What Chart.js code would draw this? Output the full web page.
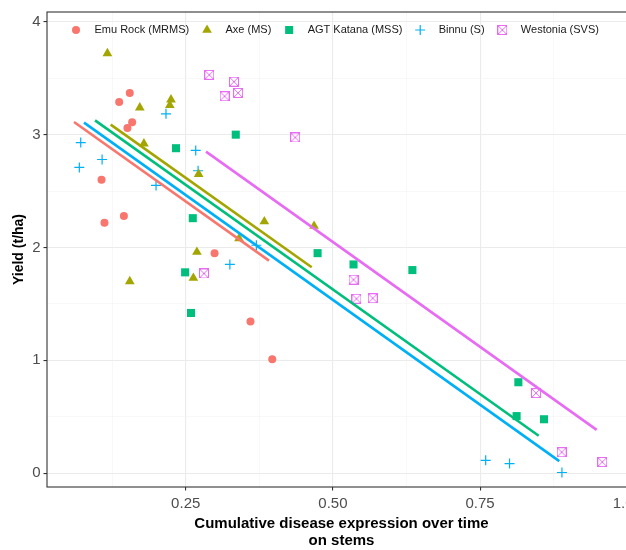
<!DOCTYPE html>
<html>
<head>
<meta charset="utf-8">
<title>Yield vs cumulative disease expression</title>
<script src="https://cdn.jsdelivr.net/npm/chart.js@4.4.1/dist/chart.umd.min.js"></script>
<style>
  html, body { margin: 0; padding: 0; background: #ffffff; overflow: hidden; }
  #wrap { width: 626px; height: 550px; overflow: hidden; }
</style>
</head>
<body>
<div id="wrap"><canvas id="yieldChart" width="650" height="550"></canvas></div>
<script>
// Varieties (legend order)
const seriesNames = ['Emu Rock (MRMS)', 'Axe (MS)', 'AGT Katana (MSS)', 'Binnu (S)', 'Westonia (SVS)'];
const seriesColors = ['#F8766D', '#A3A500', '#00BF7D', '#00B0F6', '#E76BF3'];

// Observations: cumulative disease expression (x) and yield t/ha (y)
const emuX = [0.155, 0.137, 0.159, 0.151, 0.107, 0.145, 0.112, 0.299, 0.360, 0.397];
const emuY = [3.37, 3.29, 3.11, 3.06, 2.60, 2.28, 2.22, 1.95, 1.345, 1.01];

const axeX = [0.117, 0.225, 0.223, 0.172, 0.179, 0.272, 0.3835, 0.468, 0.3405, 0.269, 0.263, 0.155];
const axeY = [3.72, 3.31, 3.26, 3.24, 2.92, 2.65, 2.23, 2.19, 2.08, 1.96, 1.73, 1.70];

const katanaX = [0.335, 0.2335, 0.262, 0.249, 0.259, 0.474, 0.535, 0.635, 0.815, 0.812, 0.8585];
const katanaY = [3.00, 2.88, 2.26, 1.78, 1.42, 1.95, 1.85, 1.80, 0.806, 0.506, 0.478];

const binnuX = [0.0717, 0.108, 0.0693, 0.2165, 0.267, 0.271, 0.1996, 0.370, 0.325, 0.7595, 0.800, 0.889];
const binnuY = [2.93, 2.78, 2.71, 3.185, 2.86, 2.68, 2.55, 2.02, 1.85, 0.114, 0.085, 0.006];

const westoniaX = [0.290, 0.332, 0.339, 0.316, 0.436, 0.281, 0.535, 0.540, 0.5676, 0.845, 0.8885, 0.9575];
const westoniaY = [3.53, 3.47, 3.37, 3.34, 2.975, 1.77, 1.715, 1.546, 1.55, 0.71, 0.186, 0.099];

// Fitted lines (start and end of each variety's line)
const emuFitX = [0.0603, 0.3914];
const emuFitY = [3.112, 1.884];
const axeFitX = [0.1226, 0.464];
const axeFitY = [3.089, 1.825];
const katanaFitX = [0.096, 0.8495];
const katanaFitY = [3.127, 0.332];
const binnuFitX = [0.0773, 0.8845];
const binnuFitY = [3.107, 0.107];
const westoniaFitX = [0.2845, 0.948];
const westoniaFitY = [2.85, 0.384];

// Axis ticks (empty label = minor grid line)
const xTickValues = [0.125, 0.25, 0.375, 0.5, 0.625, 0.75, 0.875, 1.0];
const xTickLabels = ['', '0.25', '', '0.50', '', '0.75', '', '1.00'];
const yTickValues = [0, 0.5, 1, 1.5, 2, 2.5, 3, 3.5, 4];
const yTickLabels = ['0', '', '1', '', '2', '', '3', '', '4'];

const FONT = '"Liberation Sans", Arial, Helvetica, sans-serif';
Chart.defaults.font.family = FONT;

const toPoints = (xs, ys) => xs.map((x, i) => ({ x: x, y: ys[i] }));

// square with a cross inside (ggplot shape 7)
function makeBoxCross(color) {
    const c = document.createElement('canvas');
    c.width = 10;
    c.height = 10;
    const g = c.getContext('2d');
    g.strokeStyle = color;
    g.lineWidth = 1;
    g.strokeRect(0.5, 0.5, 9, 9);
    g.beginPath();
    g.moveTo(1, 1); g.lineTo(9, 9);
    g.moveTo(9, 1); g.lineTo(1, 9);
    g.stroke();
    return c;
}

const markers = [
    { pointStyle: 'circle', pointRadius: 4, borderWidth: 0 },
    { pointStyle: 'triangle', pointRadius: 5.6, borderWidth: 0 },
    { pointStyle: 'rect', pointRadius: 5.7, borderWidth: 0 },
    { pointStyle: 'cross', pointRadius: 5, borderWidth: 1.2 },
    { pointStyle: makeBoxCross(seriesColors[4]), pointRadius: 5, borderWidth: 0 }
];

const obsX = [emuX, axeX, katanaX, binnuX, westoniaX];
const obsY = [emuY, axeY, katanaY, binnuY, westoniaY];
const fitX = [emuFitX, axeFitX, katanaFitX, binnuFitX, westoniaFitX];
const fitY = [emuFitY, axeFitY, katanaFitY, binnuFitY, westoniaFitY];

const datasets = [];
seriesNames.forEach((name, i) => {
    datasets.push({
        label: name,
        data: toPoints(obsX[i], obsY[i]),
        backgroundColor: seriesColors[i],
        borderColor: seriesColors[i],
        pointStyle: markers[i].pointStyle,
        pointRadius: markers[i].pointRadius,
        borderWidth: markers[i].borderWidth,
        order: 2
    });
});
seriesNames.forEach((name, i) => {
    datasets.push({
        label: name + ' fit',
        data: toPoints(fitX[i], fitY[i]),
        showLine: true,
        borderColor: seriesColors[i],
        backgroundColor: seriesColors[i],
        borderWidth: 2.6,
        pointRadius: 0,
        fill: false,
        order: 1
    });
});

// legend drawn inside the panel, along the top
const insideLegend = {
    id: 'insideLegend',
    afterDraw(chart) {
        const ctx = chart.ctx;
        ctx.save();
        ctx.font = '11px ' + FONT;
        ctx.textBaseline = 'middle';
        let x = 76;
        const y = 30;
        chart.data.datasets.forEach(ds => {
            if (ds.showLine) return;
            ctx.fillStyle = ds.backgroundColor;
            ctx.strokeStyle = ds.borderColor;
            ctx.lineWidth = ds.borderWidth || 1;
            Chart.helpers.drawPoint(ctx, {
                pointStyle: ds.pointStyle,
                radius: ds.pointRadius,
                borderWidth: ds.borderWidth,
                rotation: 0
            }, x, y);
            ctx.fillStyle = '#1A1A1A';
            ctx.fillText(ds.label, x + 18.5, y);
            x += 18.5 + ctx.measureText(ds.label).width + 17.8;
        });
        ctx.restore();
    }
};

// full panel border
const panelBorder = {
    id: 'panelBorder',
    afterDatasetsDraw(chart) {
        const a = chart.chartArea;
        const ctx = chart.ctx;
        ctx.save();
        ctx.strokeStyle = '#333333';
        ctx.lineWidth = 1.1;
        ctx.strokeRect(a.left, a.top, a.right - a.left, a.bottom - a.top);
        ctx.restore();
    }
};

const isMajor = c => c.tick && c.tick.label !== '';

const ctx = document.getElementById('yieldChart').getContext('2d');
new Chart(ctx, {
    type: 'scatter',
    data: { datasets: datasets },
    options: {
        responsive: false,
        animation: false,
        events: [],
        layout: { padding: { top: 5, right: 14, left: 0, bottom: 0 } },
        plugins: {
            legend: { display: false },
            tooltip: { enabled: false }
        },
        scales: {
            x: {
                type: 'linear',
                min: 0.0144,
                max: 1.0148,
                afterBuildTicks: s => { s.ticks = xTickValues.map(v => ({ value: v })); },
                afterFit: s => { s.height = 63; },
                ticks: {
                    callback: (v, i) => xTickLabels[i],
                    autoSkip: false,
                    maxRotation: 0,
                    color: '#4D4D4D',
                    font: { size: 15 },
                    padding: 4
                },
                grid: {
                    color: c => isMajor(c) ? '#EBEBEB' : '#F4F4F4',
                    lineWidth: c => isMajor(c) ? 1.1 : 0.6,
                    tickColor: c => isMajor(c) ? '#333333' : 'rgba(0,0,0,0)',
                    tickLength: 3.5,
                    drawTicks: true
                },
                border: { display: false },
                title: {
                    display: true,
                    text: ['Cumulative disease expression over time', 'on stems'],
                    color: '#000000',
                    font: { size: 15, weight: 'bold', lineHeight: 1.13 },
                    padding: { top: 0, bottom: 0.5 }
                }
            },
            y: {
                type: 'linear',
                min: -0.1223,
                max: 4.087,
                afterBuildTicks: s => { s.ticks = yTickValues.map(v => ({ value: v })); },
                afterFit: s => { s.width = 47; },
                ticks: {
                    callback: (v, i) => yTickLabels[i],
                    autoSkip: false,
                    color: '#4D4D4D',
                    font: { size: 15 },
                    padding: 3
                },
                grid: {
                    color: c => isMajor(c) ? '#EBEBEB' : '#F4F4F4',
                    lineWidth: c => isMajor(c) ? 1.1 : 0.6,
                    tickColor: c => isMajor(c) ? '#333333' : 'rgba(0,0,0,0)',
                    tickLength: 3.5,
                    drawTicks: true
                },
                border: { display: false },
                title: {
                    display: true,
                    text: 'Yield (t/ha)',
                    color: '#000000',
                    font: { size: 14, weight: 'bold', lineHeight: 1.2 },
                    padding: { top: 10.5, bottom: 0 }
                }
            }
        }
    },
    plugins: [insideLegend, panelBorder]
});
</script>
</body>
</html>
